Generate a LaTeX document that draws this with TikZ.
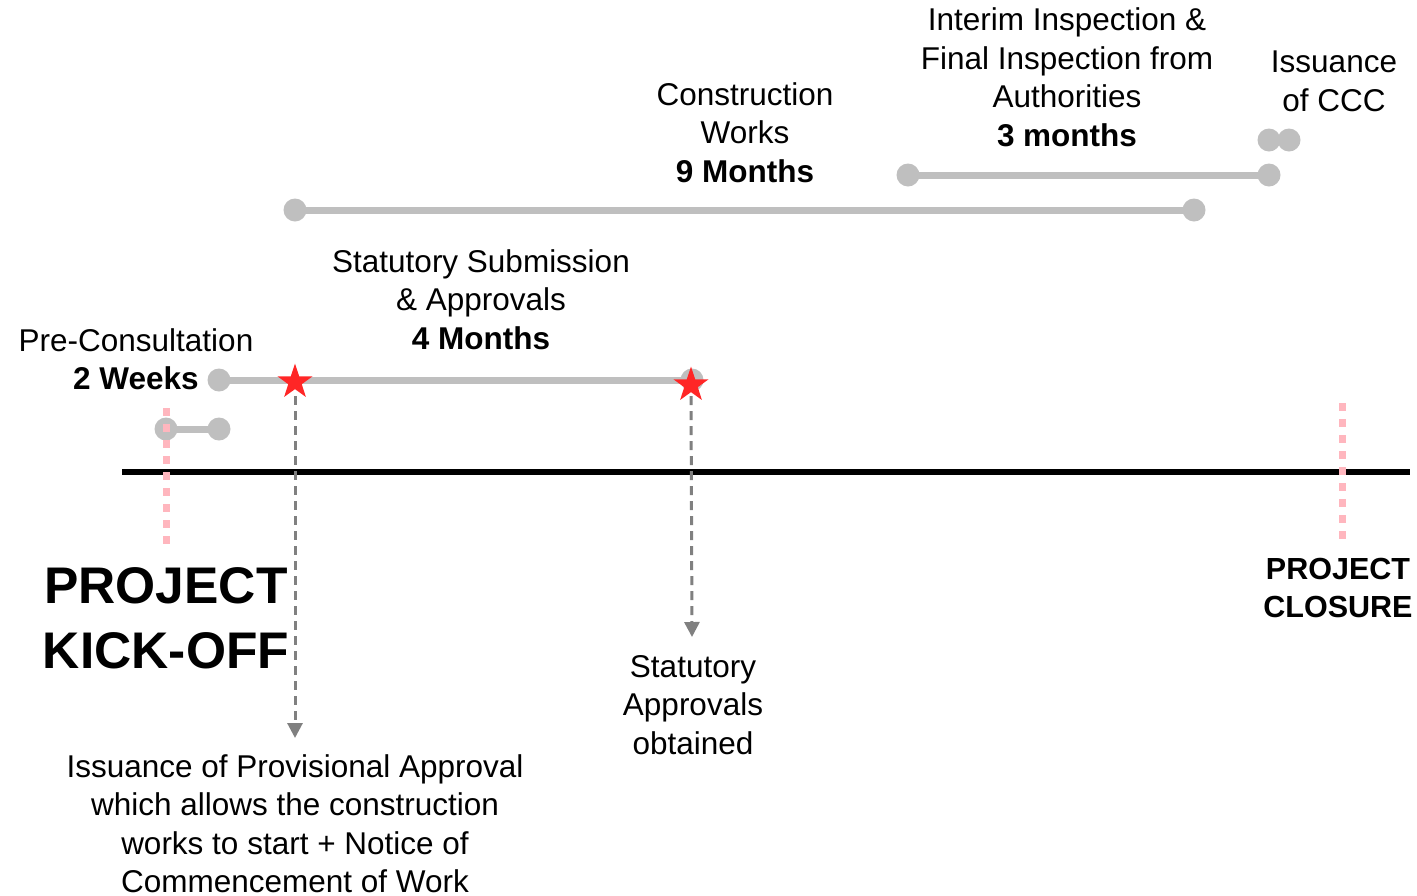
\documentclass[tikz,border=0pt]{standalone}
\usepackage{fontspec}
\setmainfont{Liberation Sans}
\usetikzlibrary{shapes.geometric,arrows.meta}
\definecolor{bargray}{RGB}{191,191,191}
\definecolor{arrgray}{RGB}{128,128,128}
\definecolor{pinkdot}{RGB}{255,182,190}
\definecolor{starred}{RGB}{255,38,38}
\begin{document}
\begin{tikzpicture}[x=1pt,y=-1pt,
 dot/.style={circle,fill=bargray,minimum size=23pt,inner sep=0pt},
 bar/.style={draw=bargray,line width=7pt},
 redstar/.style={star,star points=5,star point ratio=2.6,fill=starred,minimum size=37pt,inner sep=0pt},
 guide/.style={draw=arrgray,line width=3pt,dash pattern=on 9pt off 6pt,-{Triangle[width=15pt,length=15pt]}},
 marker/.style={draw=pinkdot,line width=7pt,dash pattern=on 8pt off 8pt},
 axis/.style={draw=black,line width=6pt},
 lbl/.style={align=center,anchor=north,inner sep=0pt,font=\fontsize{31.5}{38.5}\selectfont,execute at begin node=\strut,execute at end node=\strut},
 big/.style={align=center,anchor=north,inner sep=0pt,font=\bfseries\fontsize{51.5}{65}\selectfont,execute at begin node=\strut,execute at end node=\strut},
 closure/.style={align=center,anchor=north,inner sep=0pt,font=\bfseries\fontsize{30.5}{37.5}\selectfont,execute at begin node=\strut,execute at end node=\strut}]
\useasboundingbox (0,0) rectangle (1417,895);

% main timeline
\coordinate (tl0) at (122,472);
\coordinate (tl1) at (1410,472);
\draw[axis] (tl0) -- (tl1);

% bars
\node[dot] (pcA) at (166,429) {};
\node[dot] (pcB) at (219,429) {};
\draw[bar] (pcA.center) -- (pcB.center);

\node[dot] (ssA) at (219,380) {};
\node[dot] (ssB) at (692,380) {};
\draw[bar] (ssA.center) -- (ssB.center);

\node[dot] (cwA) at (295,210) {};
\node[dot] (cwB) at (1194,210) {};
\draw[bar] (cwA.center) -- (cwB.center);

\node[dot] (inA) at (908,175) {};
\node[dot] (inB) at (1269,175) {};
\draw[bar] (inA.center) -- (inB.center);

\node[dot] (cccA) at (1269,140) {};
\node[dot] (cccB) at (1289,140) {};

% stars
\node[redstar] (st1) at (295,382) {};
\node[redstar] (st2) at (691,385) {};

% arrows
\coordinate (ar1) at (295,738);
\coordinate (ar2) at (692,637);
\draw[guide] (st1.center) ++(0,14) coordinate (st1b) (st1b) -- (ar1);
\draw[guide] (st2.center) ++(0,11) coordinate (st2b) (st2b) -- (ar2);

% pink markers
\coordinate (mk1a) at (166,408);
\coordinate (mk1b) at (166,545);
\coordinate (mk2a) at (1342,403);
\coordinate (mk2b) at (1342,540);
\draw[marker] (mk1a) -- (mk1b);
\draw[marker] (mk2a) -- (mk2b);

% labels
\node[lbl] (pre) at (136,328) {Pre-Consultation\\\textbf{2 Weeks}};
\node[lbl] (ssl) at (481,249) {Statutory Submission\\\& Approvals\\\textbf{4 Months}};
\node[lbl] (cwl) at (745,82) {Construction\\Works\\\textbf{9 Months}};
\node[lbl] (inl) at (1067,7.5) {Interim Inspection \&\\Final Inspection from\\Authorities\\\textbf{3 months}};
\node[lbl] (cccl) at (1334,51) {Issuance\\of CCC};
\node[lbl] (sao) at (693,655) {Statutory\\Approvals\\obtained};
\node[lbl] (ipa) at (295,754) {Issuance of Provisional Approval\\which allows the construction\\works to start + Notice of\\Commencement of Work};
\node[big] (kick) at (166,567) {PROJECT\\KICK-OFF};
\node[closure] (close) at (1338,558) {PROJECT\\CLOSURE};
\end{tikzpicture}
\end{document}
